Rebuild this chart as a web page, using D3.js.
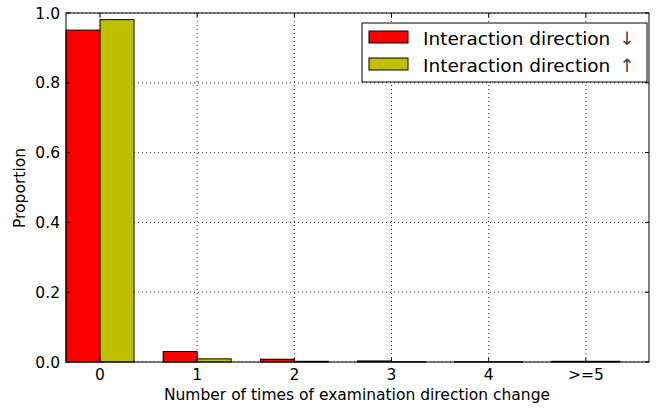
<!DOCTYPE html>
<html><head><meta charset="utf-8">
<script src="https://cdn.jsdelivr.net/npm/d3@7"></script>
<style>body{margin:0;background:#fff;} text{font-family:"DejaVu Sans",sans-serif;}</style>
</head><body>
<svg id="c" width="663" height="409"></svg>
<script>
const categories = ["0","1","2","3","4",">=5"];
const seriesNames = ["Interaction direction","Interaction direction"];
const seriesArrows = ["\u2193","\u2191"];
const downValues = [0.951, 0.030, 0.008, 0.003, 0.001, 0.002];
const upValues = [0.981, 0.009, 0.002, 0.001, 0.001, 0.002];
const yTicks = [0.0, 0.2, 0.4, 0.6, 0.8, 1.0];
const colors = ["#ff0000", "#bfbf00"];

const svg = d3.select("#c");
const L = 66, R = 649, T = 13, B = 362;
const x = d3.scaleLinear().domain([-0.35, 5.65]).range([L, R]);
const y = d3.scaleLinear().domain([0, 1]).range([B, T]);
const bw = 0.35;

// grid
const g = svg.append("g");
categories.forEach((c, i) => {
  g.append("line").attr("x1", x(i)).attr("x2", x(i)).attr("y1", T).attr("y2", B)
    .attr("stroke", "#000").attr("stroke-width", 0.8).attr("stroke-dasharray", "1,3");
});
yTicks.forEach(t => {
  g.append("line").attr("x1", L).attr("x2", R).attr("y1", y(t)).attr("y2", y(t))
    .attr("stroke", "#000").attr("stroke-width", 0.8).attr("stroke-dasharray", "1,3");
});

// bars
[downValues, upValues].forEach((vals, s) => {
  svg.append("g").selectAll("rect").data(vals).join("rect")
    .attr("x", (d, i) => x(i - bw + s * bw))
    .attr("width", x(bw) - x(0))
    .attr("y", d => y(d))
    .attr("height", d => y(0) - y(d))
    .attr("fill", colors[s]).attr("stroke", "#000").attr("stroke-width", 1);
});

// frame
svg.append("rect").attr("x", L).attr("y", T).attr("width", R - L).attr("height", B - T)
  .attr("fill", "none").attr("stroke", "#000").attr("stroke-width", 1);

// ticks (inward)
const tk = svg.append("g").attr("stroke", "#000").attr("stroke-width", 1);
categories.forEach((c, i) => {
  tk.append("line").attr("x1", x(i)).attr("x2", x(i)).attr("y1", B).attr("y2", B - 4);
  tk.append("line").attr("x1", x(i)).attr("x2", x(i)).attr("y1", T).attr("y2", T + 4);
});
yTicks.forEach(t => {
  tk.append("line").attr("x1", L).attr("x2", L + 4).attr("y1", y(t)).attr("y2", y(t));
  tk.append("line").attr("x1", R).attr("x2", R - 4).attr("y1", y(t)).attr("y2", y(t));
});

// tick labels
svg.append("g").selectAll("text").data(categories).join("text")
  .attr("x", (d, i) => x(i)).attr("y", B + 18).attr("text-anchor", "middle")
  .attr("font-size", 15.5).text(d => d);
svg.append("g").selectAll("text").data(yTicks).join("text")
  .attr("x", L - 6).attr("y", d => y(d) + 5.5).attr("text-anchor", "end")
  .attr("font-size", 15.5).text(d => d.toFixed(1));

// axis labels
svg.append("text").attr("x", 357).attr("y", 400).attr("text-anchor", "middle")
  .attr("font-size", 15.5).text("Number of times of examination direction change");
svg.append("text").attr("transform", `translate(25,188) rotate(-90)`)
  .attr("text-anchor", "middle").attr("font-size", 15.5).text("Proportion");

// legend
const lg = svg.append("g");
lg.append("rect").attr("x", 362).attr("y", 23).attr("width", 285).attr("height", 59)
  .attr("fill", "#fff").attr("stroke", "#000").attr("stroke-width", 1);
seriesNames.forEach((n, i) => {
  lg.append("rect").attr("x", 369).attr("y", 31 + i * 27).attr("width", 39).attr("height", 12)
    .attr("fill", colors[i]).attr("stroke", "#000").attr("stroke-width", 1);
  lg.append("text").attr("x", 423).attr("y", 45 + i * 27).attr("font-size", 18.5).text(n);
  lg.append("text").attr("x", 627).attr("y", 45 + i * 27).attr("font-size", 18.5)
    .attr("text-anchor", "middle").attr("fill", "#444").attr("font-family", "Liberation Sans").text(seriesArrows[i]);
});
</script>
</body></html>
